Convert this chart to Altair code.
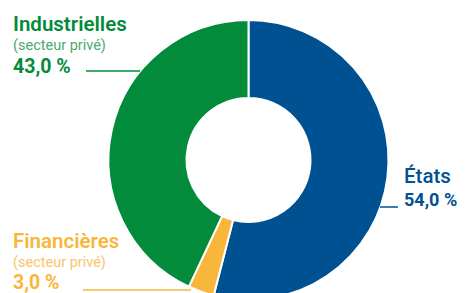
import altair as alt
import pandas as pd

categories = ["États", "Financières", "Industrielles"]
subtitles = ["", "(secteur privé)", "(secteur privé)"]
values = [54.0, 3.0, 43.0]
colors = ["#005192", "#F8B73A", "#028B3B"]
light_colors = ["#005192", "#F9C56A", "#4AAA6C"]

df = pd.DataFrame({"cat": categories, "value": values, "order": [0, 1, 2]})

FONT = "Roboto"
CX, CY = 240.5, 152

arc = alt.Chart(df).mark_arc(outerRadius=140, innerRadius=62, stroke="white", strokeWidth=2).encode(
    theta=alt.Theta("value:Q", stack=True),
    order=alt.Order("order:Q"),
    color=alt.Color("cat:N", scale=alt.Scale(domain=categories, range=colors), legend=None),
    x=alt.value(CX), y=alt.value(CY),
)

def fmt(v):
    return f"{v:.1f}".replace(".", ",") + " %"

# label layout (positions in plot coordinates)
layout = {
    "Industrielles": dict(x=5, ny=23, sy=42, vy=65, vs=19.5, rule=(78, 132, 63)),
    "Financières": dict(x=5, ny=240, sy=259, vy=281, vs=19.5, rule=(75, 183, 282)),
    "États": dict(x=396, ny=175, sy=None, vy=198, vs=18, rule=(372, 390, 199)),
}

base = alt.Chart(pd.DataFrame({"a": [0]}))
layers = [arc]
for cat, sub, val, col, lcol in zip(categories, subtitles, values, colors, light_colors):
    L = layout[cat]
    layers.append(base.mark_text(align="left", baseline="alphabetic", font=FONT, fontSize=20.5,
                                 fontWeight=600 if cat != "États" else 500, color=col).encode(
        x=alt.value(L["x"]), y=alt.value(L["ny"]), text=alt.value(cat)))
    if sub:
        layers.append(base.mark_text(align="left", baseline="alphabetic", font=FONT, fontSize=14.5,
                                     color=lcol).encode(
            x=alt.value(L["x"]), y=alt.value(L["sy"]), text=alt.value(sub)))
    layers.append(base.mark_text(align="left", baseline="alphabetic", font=FONT, fontSize=L["vs"],
                                 fontWeight="bold", color=col).encode(
        x=alt.value(L["x"]), y=alt.value(L["vy"]), text=alt.value(fmt(val))))
    x1, x2, y = L["rule"]
    layers.append(base.mark_rule(color=col, strokeWidth=1.5).encode(
        x=alt.value(x1), x2=alt.value(x2), y=alt.value(y)))

chart = alt.layer(*layers).properties(
    width=452, height=320, padding=0, autosize=alt.AutoSizeParams(type="none")
).configure_view(stroke=None)

chart.save("out.html", embed_options={"renderer": "svg", "actions": False})
